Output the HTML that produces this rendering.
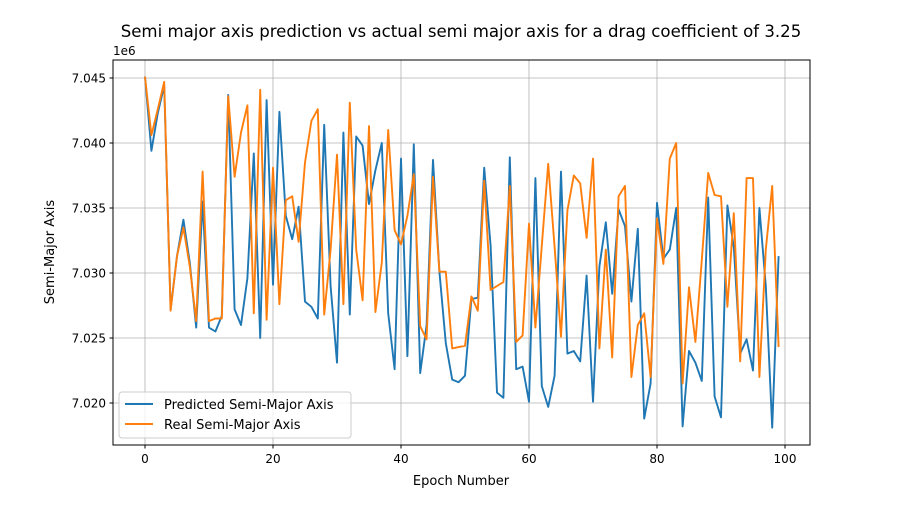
<!DOCTYPE html>
<html><head><meta charset="utf-8"><style>
body{margin:0;background:#fff;}
svg text{font-family:"DejaVu Sans","Liberation Sans",sans-serif;}
</style></head><body>
<svg id="chart" width="900" height="500" xmlns="http://www.w3.org/2000/svg">
<rect width="900" height="500" fill="#fff"/>
<text x="461" y="37" font-size="16.6" text-anchor="middle">Semi major axis prediction vs actual semi major axis for a drag coefficient of 3.25</text>
<g id="grid"></g>
<g id="axes"></g>
<g id="series"></g>
<rect x="113" y="60" width="697" height="385" fill="none" stroke="#000" stroke-width="1"/>
<text x="113" y="55" font-size="12">1e6</text>
<text x="461" y="485" font-size="13" text-anchor="middle">Epoch Number</text>
<text x="54" y="252" font-size="13" text-anchor="middle" transform="rotate(-90 54 252)">Semi-Major Axis</text>
<g>
<rect x="119" y="392" width="232" height="46" rx="3" fill="#fff" fill-opacity="0.8" stroke="#ccc"/>
<g>
<line x1="125" y1="404" x2="153" y2="404" stroke="#1f77b4" stroke-width="2"/>
<text x="164" y="409" font-size="13">Predicted Semi-Major Axis</text></g>
<g>
<line x1="125" y1="424" x2="153" y2="424" stroke="#ff7f0e" stroke-width="2"/>
<text x="164" y="429" font-size="13">Real Semi-Major Axis</text></g>
</g>
</svg>
<script>
const xTicks=[0,20,40,60,80,100];
const yTicks=[7.020,7.025,7.030,7.035,7.040,7.045];
const predicted=[7.0451,7.0394,7.0423,7.0444,7.0272,7.0313,7.0341,7.0308,7.0258,7.0355,
7.0258,7.0255,7.0267,7.0437,7.0272,7.0260,7.0296,7.0392,7.0250,7.0433,
7.0291,7.0424,7.0344,7.0326,7.0351,7.0278,7.0274,7.0265,7.0414,7.0290,
7.0231,7.0408,7.0268,7.0405,7.0398,7.0353,7.0379,7.0400,7.0269,7.0226,
7.0388,7.0236,7.0399,7.0223,7.0260,7.0387,7.0301,7.0246,7.0218,7.0216,
7.0221,7.0280,7.0281,7.0381,7.0321,7.0208,7.0204,7.0389,7.0226,7.0228,
7.0201,7.0373,7.0213,7.0197,7.0221,7.0378,7.0238,7.0240,7.0232,7.0298,
7.0201,7.0305,7.0339,7.0284,7.0349,7.0336,7.0278,7.0334,7.0188,7.0215,
7.0354,7.0311,7.0318,7.0350,7.0182,7.0240,7.0231,7.0217,7.0358,7.0205,
7.0189,7.0352,7.0320,7.0238,7.0249,7.0225,7.0350,7.0290,7.0181,7.0313];
const real=[7.0451,7.0406,7.0426,7.0447,7.0271,7.0313,7.0335,7.0305,7.0263,7.0378,
7.0263,7.0265,7.0265,7.0436,7.0374,7.0408,7.0429,7.0269,7.0441,7.0264,
7.0381,7.0276,7.0356,7.0359,7.0324,7.0385,7.0417,7.0426,7.0268,7.0318,
7.0391,7.0276,7.0431,7.0318,7.0279,7.0413,7.0270,7.0308,7.0410,7.0333,
7.0322,7.0344,7.0376,7.0259,7.0249,7.0374,7.0301,7.0301,7.0242,7.0243,
7.0244,7.0282,7.0271,7.0371,7.0287,7.0290,7.0293,7.0367,7.0247,7.0252,
7.0338,7.0258,7.0321,7.0384,7.0320,7.0251,7.0348,7.0375,7.0369,7.0327,
7.0388,7.0242,7.0318,7.0235,7.0359,7.0367,7.0220,7.0260,7.0269,7.0220,
7.0342,7.0307,7.0388,7.0400,7.0215,7.0289,7.0247,7.0310,7.0377,7.0360,
7.0359,7.0274,7.0346,7.0232,7.0373,7.0373,7.0220,7.0318,7.0367,7.0243];
const NS="http://www.w3.org/2000/svg";
function xs(e){return 145+6.4*e;}
function ys(v){return 78+(7.045-v)*13000;}
function mk(tag,attrs,parent){const el=document.createElementNS(NS,tag);for(const k in attrs)el.setAttribute(k,attrs[k]);parent.appendChild(el);return el;}
const grid=document.getElementById('grid'),axes=document.getElementById('axes'),series=document.getElementById('series');
xTicks.forEach(t=>{const x=xs(t);
const g=mk('line',{x1:x,x2:x,y1:60,y2:445,stroke:'#b0b0b0','stroke-width':0.8},grid);


const tk=mk('line',{x1:x,x2:x,y1:445,y2:448.5,stroke:'#000'},axes);


const tx=mk('text',{x:x,y:463,'font-size':12,'text-anchor':'middle'},axes);tx.textContent=t;


});
yTicks.forEach(t=>{const y=ys(t);
const g=mk('line',{x1:113,x2:810,y1:y,y2:y,stroke:'#b0b0b0','stroke-width':0.8},grid);


const tk=mk('line',{x1:109.5,x2:113,y1:y,y2:y,stroke:'#000'},axes);


const tx=mk('text',{x:106,y:y+4.5,'font-size':12,'text-anchor':'end'},axes);tx.textContent=t.toFixed(3);


});
function line(data,color,name){
const pts=data.map((v,i)=>xs(i).toFixed(1)+','+ys(v).toFixed(1)).join(' ');
const p=mk('polyline',{points:pts,fill:'none',stroke:color,'stroke-width':1.9,'stroke-linejoin':'round'},series);


}
line(predicted,'#1f77b4','predicted-line');
line(real,'#ff7f0e','real-line');
</script>
</body></html>
